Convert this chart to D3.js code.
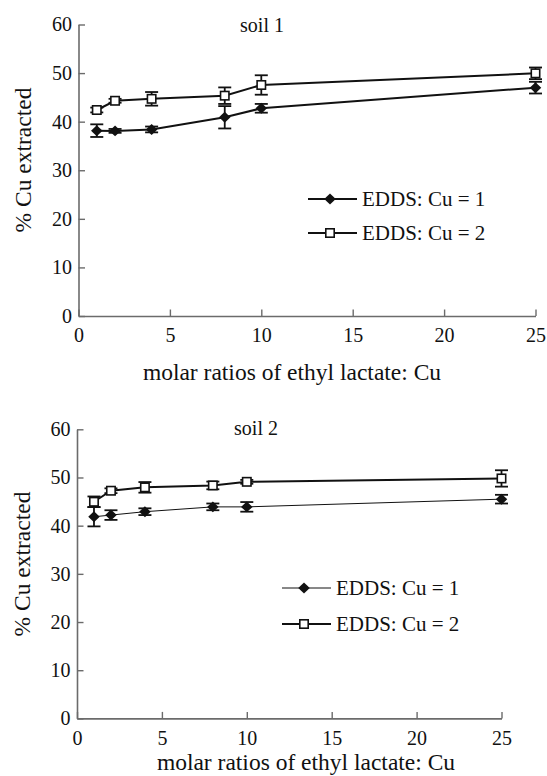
<!DOCTYPE html>
<html>
<head>
<meta charset="utf-8">
<script src="https://cdn.jsdelivr.net/npm/d3@7"></script>
<style>
  html, body { margin: 0; padding: 0; background: #fff; }
  svg { display: block; }
  svg text { font-family: "Liberation Serif", "Times New Roman", serif; }
</style>
</head>
<body>
<svg id="chart" width="547" height="776"></svg>
<script>
// Molar ratios of ethyl lactate : Cu (x values, shared by all series)
const ratios = [1, 2, 4, 8, 10, 25];

// Soil 1 — % Cu extracted, mean and error
const soil1Cu1 = [38.15, 38.1, 38.4, 40.9, 42.75, 47.0];
const soil1Cu1Err = [1.3, 0.4, 0.6, 2.3, 0.9, 1.2];
const soil1Cu2 = [42.4, 44.3, 44.7, 45.35, 47.55, 49.95];
const soil1Cu2Err = [0.5, 0.4, 1.4, 1.7, 2.0, 1.2];

// Soil 2 — % Cu extracted, mean and error
const soil2Cu1 = [41.85, 42.2, 42.9, 43.9, 43.9, 45.5];
const soil2Cu1Err = [2.0, 1.0, 0.7, 0.7, 1.0, 0.9];
const soil2Cu2 = [44.96, 47.25, 47.95, 48.35, 49.1, 49.8];
const soil2Cu2Err = [1.1, 0.5, 1.1, 0.8, 0.4, 1.7];

const xTicks = [0, 5, 10, 15, 20, 25];
const yTicks = [0, 10, 20, 30, 40, 50, 60];
const seriesNames = ["EDDS: Cu = 1", "EDDS: Cu = 2"];
const panelTitles = ["soil 1", "soil 2"];
const xTitle = "molar ratios of ethyl lactate: Cu";
const yTitle = "% Cu extracted";

const svg = d3.select("#chart");
const AXIS = "#6b6b6b";
const INK = "#111";
const SERIF = "'Liberation Serif', 'Times New Roman', serif";

const panels = [
  {
    title: panelTitles[0],
    xr: [78.5, 535.5], yr: [316, 24.5],
    titleX: 262, titleY: 32,
    xLabPad: 11.5, xTitleX: 292, xTitleY: 380,
    yTitleX: 31, yTitleY: 160,
    legX: 308, legY: [199, 233],
    cu1: soil1Cu1, cu1e: soil1Cu1Err, cu2: soil1Cu2, cu2e: soil1Cu2Err,
    w1: 2, w2: 2
  },
  {
    title: panelTitles[1],
    xr: [77, 501.5], yr: [718.4, 429.3],
    titleX: 256, titleY: 435,
    xLabPad: 12.5, xTitleX: 306, xTitleY: 770,
    yTitleX: 30, yTitleY: 564,
    legX: 282, legY: [588, 624],
    cu1: soil2Cu1, cu1e: soil2Cu1Err, cu2: soil2Cu2, cu2e: soil2Cu2Err,
    w1: 1, w2: 2
  }
];

// filled diamond marker: a square turned 45°
const diamondType = {
  draw(ctx, size) {
    const r = Math.sqrt(size / 2);
    ctx.moveTo(0, -r);
    ctx.lineTo(r * 1.05, 0);
    ctx.lineTo(0, r);
    ctx.lineTo(-r * 1.05, 0);
    ctx.closePath();
  }
};
const diamond = d3.symbol().type(diamondType).size(60);

function drawPanel(p) {
  const g = svg.append("g");
  const x = d3.scaleLinear().domain([0, 25]).range(p.xr);
  const y = d3.scaleLinear().domain([0, 60]).range(p.yr);

  // axes: ticks point into the plot area
  const xAxis = g.append("g")
    .attr("transform", `translate(0,${p.yr[0]})`)
    .call(d3.axisBottom(x).tickValues(xTicks).tickSizeInner(-6.5).tickSizeOuter(0).tickPadding(p.xLabPad));
  const yAxis = g.append("g")
    .attr("transform", `translate(${p.xr[0]},0)`)
    .call(d3.axisLeft(y).tickValues(yTicks).tickSizeInner(-6.5).tickSizeOuter(0).tickPadding(6.5));
  [xAxis, yAxis].forEach(a => {
    a.attr("font-family", null).attr("font-size", null);
    a.select(".domain").attr("stroke", AXIS).attr("stroke-width", 1.6);
    a.selectAll(".tick line").attr("stroke", AXIS).attr("stroke-width", 1.4);
    a.selectAll(".tick text").attr("fill", INK)
      .style("font-size", "20px").style("font-family", SERIF);
  });

  // titles
  g.append("text").attr("x", p.titleX).attr("y", p.titleY)
    .attr("text-anchor", "middle").style("font-size", "20px").attr("fill", INK).text(p.title);
  g.append("text").attr("x", p.xTitleX).attr("y", p.xTitleY)
    .attr("text-anchor", "middle").style("font-size", "23.5px").attr("fill", INK).text(xTitle);
  g.append("text")
    .attr("transform", `translate(${p.yTitleX},${p.yTitleY}) rotate(-90)`)
    .attr("text-anchor", "middle").style("font-size", "23.5px").attr("fill", INK).text(yTitle);

  const line = d3.line().x(d => x(d.r)).y(d => y(d.v));
  const series = [
    { vals: p.cu2, errs: p.cu2e, w: p.w2, shape: "square" },
    { vals: p.cu1, errs: p.cu1e, w: p.w1, shape: "diamond" }
  ];

  series.forEach(s => {
    const pts = ratios.map((r, i) => ({ r, v: s.vals[i], e: s.errs[i] }));
    g.append("path").datum(pts).attr("d", line)
      .attr("fill", "none").attr("stroke", INK).attr("stroke-width", s.w);

    // error bars with caps
    const eb = g.append("g").attr("stroke", INK).attr("stroke-width", 1.8);
    pts.forEach(d => {
      const cx = x(d.r), y0 = y(d.v - d.e), y1 = y(d.v + d.e);
      eb.append("line").attr("x1", cx).attr("x2", cx).attr("y1", y0).attr("y2", y1);
      eb.append("line").attr("x1", cx - 6.5).attr("x2", cx + 6.5).attr("y1", y0).attr("y2", y0);
      eb.append("line").attr("x1", cx - 6.5).attr("x2", cx + 6.5).attr("y1", y1).attr("y2", y1);
    });

    if (s.shape === "diamond") {
      g.selectAll(null).data(pts).enter().append("path")
        .attr("d", diamond)
        .attr("transform", d => `translate(${x(d.r)},${y(d.v)})`)
        .attr("fill", INK);
    } else {
      g.selectAll(null).data(pts).enter().append("rect")
        .attr("x", d => x(d.r) - 4.2).attr("y", d => y(d.v) - 4.2)
        .attr("width", 8.4).attr("height", 8.4)
        .attr("fill", "#fff").attr("stroke", INK).attr("stroke-width", 1.6);
    }
  });

  // legend
  const leg = g.append("g");
  [0, 1].forEach(i => {
    const ly = p.legY[i];
    const w = i === 0 ? p.w1 : p.w2;
    leg.append("line").attr("x1", p.legX).attr("x2", p.legX + 49)
      .attr("y1", ly).attr("y2", ly).attr("stroke", INK).attr("stroke-width", w);
    const mx = p.legX + 22;
    if (i === 0) {
      leg.append("path").attr("d", diamond).attr("transform", `translate(${mx},${ly})`).attr("fill", INK);
    } else {
      leg.append("rect").attr("x", mx - 4.2).attr("y", ly - 4.2).attr("width", 8.4).attr("height", 8.4)
        .attr("fill", "#fff").attr("stroke", INK).attr("stroke-width", 1.6);
    }
    leg.append("text").attr("x", p.legX + 54).attr("y", ly + 7)
      .style("font-size", "21px").attr("fill", INK).text(seriesNames[i]);
  });
}

panels.forEach(drawPanel);
</script>
</body>
</html>
